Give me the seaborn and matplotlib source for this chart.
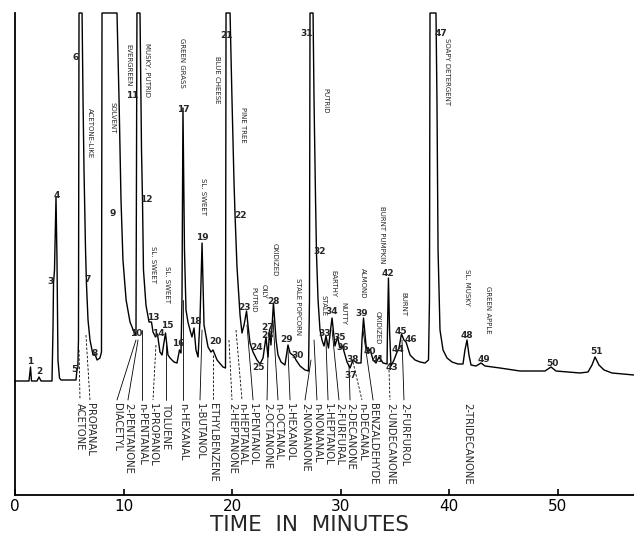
import matplotlib
matplotlib.use("Agg")
import matplotlib.pyplot as plt
import seaborn as sns
import pandas as pd

# --- chromatogram trace: retention time (min) vs. detector response (chart units) ---
trace_time = [0.00, 1.29, 1.43, 1.52, 2.03, 2.21, 2.40, 3.41, 3.50, 3.55, 3.64, 3.78, 3.87, 3.96,
              4.10, 4.24, 5.62, 5.71, 5.79, 5.85, 5.90, 6.18, 6.27, 6.36, 6.50, 6.59, 6.73, 6.91,
              7.19, 7.37, 7.56, 7.83, 7.97, 8.02, 9.40, 9.59, 9.77, 9.95, 10.24, 10.60, 10.97,
              11.15, 11.24, 11.52, 11.66, 11.75, 11.84, 12.07, 12.35, 12.58, 12.72, 12.95, 13.13,
              13.36, 13.55, 13.87, 14.10, 14.29, 14.65, 14.93, 15.16, 15.30, 15.39, 15.48, 15.62,
              15.76, 15.94, 16.13, 16.31, 16.50, 16.68, 16.87, 17.05, 17.24, 17.42, 17.79, 18.06,
              18.25, 18.62, 19.17, 19.40, 19.45, 19.82, 20.00, 20.18, 20.28, 20.46, 20.74, 20.92,
              21.11, 21.34, 21.47, 21.66, 21.94, 22.30, 22.58, 22.86, 23.13, 23.32, 23.46, 23.59,
              23.82, 24.06, 24.24, 24.52, 24.88, 25.16, 25.35, 25.71, 25.90, 26.27, 26.73, 27.05,
              27.14, 27.19, 27.47, 27.56, 27.70, 27.79, 27.93, 28.11, 28.29, 28.48, 28.66, 28.89,
              29.08, 29.22, 29.49, 29.72, 29.95, 30.18, 30.60, 30.88, 31.15, 31.52, 31.89, 31.98,
              32.12, 32.35, 32.53, 32.72, 33.00, 33.27, 33.55, 33.92, 34.29, 34.33, 34.42, 34.52,
              34.65, 34.93, 35.21, 35.39, 35.62, 35.85, 36.04, 36.41, 36.87, 37.33, 37.79, 38.11,
              38.20, 38.25, 38.80, 38.89, 38.99, 39.17, 39.45, 39.82, 40.28, 40.83, 41.29, 41.47,
              41.66, 41.84, 42.03, 42.49, 42.95, 43.32, 44.70, 46.54, 48.85, 49.40, 49.86, 52.07,
              52.81, 53.18, 53.46, 53.82, 54.29, 55.02, 57.05]
trace_resp = [114, 114, 128, 114, 114, 118, 114, 114, 165, 212, 225, 298, 235, 135,
              117, 115, 115, 125, 127, 155, 482, 482, 395, 325, 245, 210, 175, 155,
              140, 141, 135, 137, 143, 482, 482, 395, 295, 235, 195, 173, 163,
              160, 482, 482, 345, 295, 225, 190, 173, 173, 163, 158, 161,
              143, 140, 162, 140, 137, 133, 132, 145, 142, 195, 387, 245,
              185, 173, 165, 158, 167, 145, 138, 175, 252, 170, 148, 143,
              145, 135, 128, 127, 482, 482, 395, 315, 280, 228, 180, 162,
              170, 184, 170, 152, 143, 135, 131, 137, 158, 138, 165, 150,
              192, 155, 140, 133, 130, 150, 142, 139, 135, 129, 125, 124,
              195, 482, 482, 395, 295, 240, 195, 165, 155, 149, 159, 147,
              165, 177, 149, 158, 147, 149, 133, 127, 135, 132, 132, 155,
              177, 150, 142, 146, 135, 132, 138, 132, 131, 165, 217, 165,
              129, 135, 143, 147, 161, 155, 153, 140, 135, 133, 132, 135,
              195, 482, 482, 395, 245, 165, 145, 137, 133, 131, 131, 145,
              155, 140, 130, 129, 132, 129, 127, 124, 124, 128, 124, 122,
              123, 130, 138, 130, 125, 122, 120]

# --- peak numbers ---
peak_ids = list(range(1, 52))
peak_label_time = [1.38, 2.21, 3.23, 3.87, 5.44, 5.62, 6.73, 7.37, 9.03, 11.15,
                   10.78, 12.07, 12.72, 13.18, 14.01, 15.02, 15.48, 16.59, 17.24, 18.43,
                   19.45, 20.74, 21.11, 22.30, 22.40, 23.23, 23.32, 23.87, 25.07, 26.08,
                   26.91, 28.11, 28.57, 29.22, 29.95, 30.23, 30.97, 31.15, 31.98, 32.72,
                   33.46, 34.38, 34.75, 35.30, 35.58, 36.50, 39.26, 41.66, 43.23, 49.49,
                   53.55]
peak_label_resp = [133, 123, 213, 300, 126, 437, 215, 142, 282, 162,
                   400, 295, 177, 161, 170, 151, 385, 173, 258, 153,
                   460, 280, 188, 147, 127, 159, 168, 193, 155, 140,
                   462, 243, 162, 183, 157, 147, 120, 136, 182, 144,
                   135, 221, 127, 145, 163, 155, 462, 160, 135, 132,
                   143]

# --- odor descriptions ---
odor_names = ["ACETONE-LIKE", "SOLVENT", "EVERGREEN", "MUSKY, PUTRID", "GREEN GRASS",
              "SL. SWEET", "SL. SWEET", "SL. SWEET", "BLUE CHEESE", "PINE TREE",
              "PUTRID", "OILY", "OXIDIZED", "STALE POPCORN", "PUTRID", "STALE",
              "EARTHY", "NUTTY", "ALMOND", "OXIDIZED", "BURNT PUMPKIN", "BURNT",
              "SOAPY DETERGENT", "SL. MUSKY", "GREEN APPLE"]
odor_time = [6.91, 9.03, 10.41, 12.17, 15.39, 12.72, 14.01, 17.33, 18.62, 21.01,
             21.94, 22.95, 23.96, 26.08, 28.57, 28.39, 29.31, 30.23, 32.07, 33.46,
             33.82, 35.76, 39.82, 41.66, 43.59]
odor_resp = [362, 377, 430, 425, 432, 230, 211, 299, 415, 370,
             195, 204, 235, 188, 394, 189, 211, 182, 212, 167,
             260, 191, 423, 208, 185]

# --- identified compounds (labels hang below the baseline) ---
compound_names = ["ACETONE", "PROPANAL", "DIACETYL", "2-PENTANONE", "n-PENTANAL",
                  "1-PROPANOL", "TOLUENE", "n-HEXANAL", "1-BUTANOL", "ETHYLBENZENE",
                  "2-HEPTANONE", "n-HEPTANAL", "1-PENTANOL", "2-OCTANONE", "n-OCTANAL",
                  "1-HEXANOL", "2-NONANONE", "n-NONANAL", "1-HEPTANOL", "2-FURFURAL",
                  "2-DECANONE", "n-DECANAL", "BENZALDEHYDE", "2-UNDECANONE", "2-FURFUROL",
                  "2-TRIDECANONE"]
compound_time = [5.99, 6.91, 9.40, 10.41, 11.71, 12.72, 13.92, 15.48, 17.05, 18.25,
                 20.00, 20.92, 21.94, 23.23, 24.24, 25.35, 26.73, 27.83, 28.85, 29.86,
                 30.88, 31.98, 33.00, 34.56, 35.85, 41.66]
leader_time = [5.90, 6.54, 11.15, 11.34, 11.71, 12.99, 13.92, 15.48, 17.24, 18.25,
               19.72, 20.37, 21.38, 23.32, 23.78, 25.16, 27.28, 27.56, 28.66, 29.22,
               30.78, 31.15, 32.07, 34.47, 35.67, None]
leader_resp = [145, 160, 155, 155, 165, 150, 150, 195, 165, 140,
               155, 165, 170, 145, 175, 145, 135, 155, 155, 165,
               130, 133, 165, 125, 155, None]
leader_dashed = [True, True, False, False, False, True, False, False, False, True,
                 True, True, False, False, False, False, False, False, False, False,
                 False, True, False, True, False, False]

LABEL_TOP = 92
LEADER_END = 95

sns.set_theme(style="white")
plt.rcParams["font.family"] = ["DejaVu Sans"]

fig = plt.figure(figsize=(6.34, 5.34), dpi=100)
ax = fig.add_axes([15 / 634, 39 / 534, 619 / 634, 482 / 534])

df = pd.DataFrame({"time": trace_time, "resp": trace_resp})
sns.lineplot(data=df, x="time", y="resp", ax=ax, sort=False, estimator=None,
             color="black", linewidth=1.0, clip_on=False)

for pid, t, r in zip(peak_ids, peak_label_time, peak_label_resp):
    ax.text(t, r, str(pid), fontsize=6.5, fontweight="bold", ha="center", va="center",
            family=["Liberation Sans Narrow", "DejaVu Sans"])

for name, t, r in zip(odor_names, odor_time, odor_resp):
    ax.text(t, r, name, fontsize=5, rotation=-90, ha="center", va="center",
            family=["Liberation Sans Narrow", "DejaVu Sans"])

for name, t, lt, lr, dashed in zip(compound_names, compound_time, leader_time,
                                    leader_resp, leader_dashed):
    ax.text(t, LABEL_TOP, name, fontsize=7.2, rotation=-90, ha="center", va="top")
    if lt is not None:
        ax.plot([lt, t], [lr, LEADER_END], color="black", linewidth=0.6,
                linestyle=(0, (3, 2)) if dashed else "-")

ax.set_xlim(0, 57.05)
ax.set_ylim(0, 482)
ax.set_xticks([0, 10, 20, 30, 40, 50])
ax.set_yticks([])
ax.set_xlabel("")
ax.set_ylabel("")
ax.tick_params(axis="x", direction="in", length=4, width=1.2, labelsize=11, pad=3,
               bottom=True, colors="black")
for side in ["top", "right"]:
    ax.spines[side].set_visible(False)
for side in ["left", "bottom"]:
    ax.spines[side].set_color("black")
    ax.spines[side].set_linewidth(1.3)

fig.text(310 / 634, 1 - 525 / 534, "TIME  IN  MINUTES", fontsize=15.5, ha="center",
         va="center")

fig.savefig("out.png", dpi=100)
